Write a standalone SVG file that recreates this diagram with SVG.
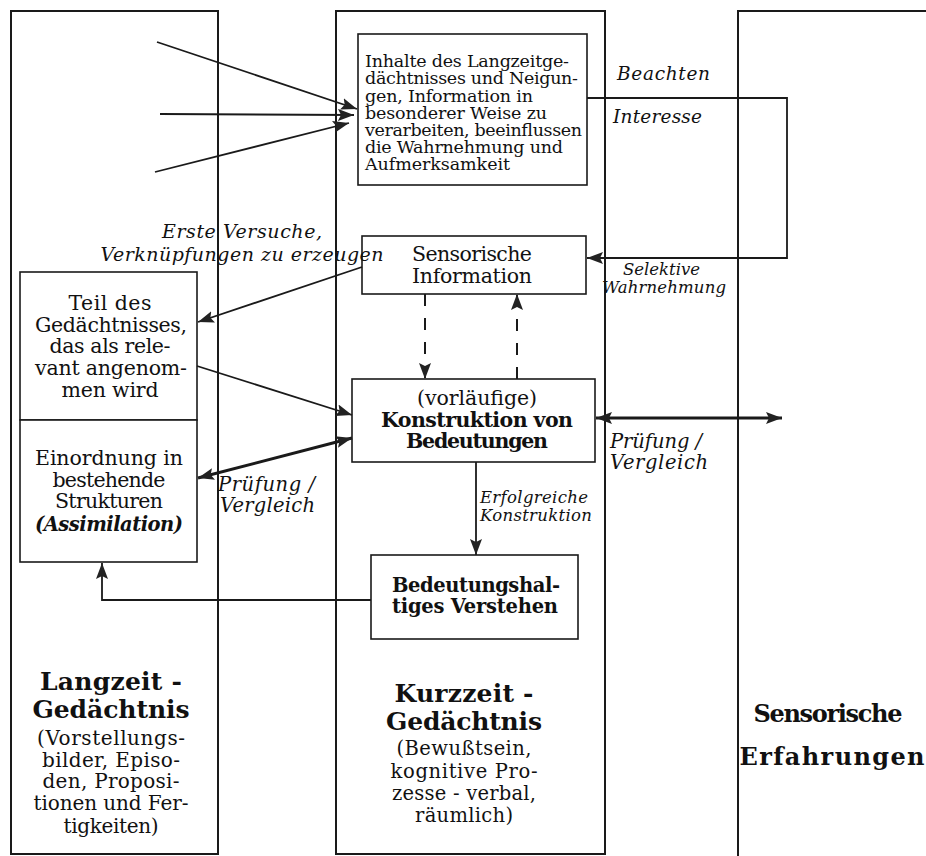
<svg xmlns="http://www.w3.org/2000/svg" width="926" height="856" viewBox="0 0 926 856">
  <style>
    .col { fill: none; stroke: #1a1a1a; stroke-width: 2; }
    .box { fill: #fff; stroke: #1a1a1a; stroke-width: 1.6; }
    .t { font-family: "DejaVu Serif", "Liberation Serif", serif; fill: #111; }
    .c { text-anchor: middle; }
    .b { font-weight: bold; }
    .i { font-style: italic; }
    .ln { fill: none; stroke: #1a1a1a; stroke-width: 1.8; }
    .thick { fill: none; stroke: #1a1a1a; stroke-width: 3; }
    .dash { fill: none; stroke: #1a1a1a; stroke-width: 2; stroke-dasharray: 12 12; }
  </style>
  <defs>
    <marker id="ah" markerUnits="userSpaceOnUse" markerWidth="17" markerHeight="12" refX="16" refY="6" orient="auto-start-reverse">
      <path d="M0,0 L16,6 L0,12 L3,6 z" fill="#222"/>
    </marker>
  </defs>
  <rect width="926" height="856" fill="#fff"/>

  <!-- memory columns -->
  <g id="col-langzeit">
    <rect class="col" x="11" y="11" width="207" height="843"/>
    <text class="t c b" x="111" y="690" font-size="25" textLength="142">Langzeit -</text>
    <text class="t c b" x="111" y="718" font-size="25" textLength="157">Gedächtnis</text>
    <text class="t c" x="111" y="745" font-size="20" textLength="148">(Vorstellungs-</text>
    <text class="t c" x="111" y="767" font-size="20" textLength="138">bilder, Episo-</text>
    <text class="t c" x="111" y="788" font-size="20" textLength="137">den, Proposi-</text>
    <text class="t c" x="111" y="810" font-size="20" textLength="155">tionen und Fer-</text>
    <text class="t c" x="111" y="833" font-size="20" textLength="95">tigkeiten)</text>
  </g>
  <g id="col-kurzzeit">
    <rect class="col" x="336" y="11" width="269" height="843"/>
    <text class="t c b" x="464" y="702" font-size="25" textLength="139">Kurzzeit -</text>
    <text class="t c b" x="464" y="730" font-size="25" textLength="156">Gedächtnis</text>
    <text class="t c" x="464" y="755" font-size="19.5" textLength="135">(Bewußtsein,</text>
    <text class="t c" x="464" y="778" font-size="19.5" textLength="147">kognitive Pro-</text>
    <text class="t c" x="464" y="800" font-size="19.5" textLength="144">zesse - verbal,</text>
    <text class="t c" x="464" y="822" font-size="19.5" textLength="98">räumlich)</text>
  </g>
  <g id="col-sensorisch">
    <path class="col" d="M926,11 H738 V856"/>
    <text class="t c b" x="828" y="722" font-size="24" textLength="149">Sensorische</text>
    <text class="t c b" x="832" y="765" font-size="24" textLength="185">Erfahrungen</text>
  </g>

  <!-- boxes -->
  <g id="n-inhalte">
    <rect class="box" x="358" y="34" width="229" height="151"/>
    <text class="t" x="365" y="67" font-size="17.5" textLength="204">Inhalte des Langzeitge-</text>
    <text class="t" x="365" y="84" font-size="17.5" textLength="213">dächtnisses und Neigun-</text>
    <text class="t" x="365" y="101.5" font-size="17.5" textLength="168">gen, Information in</text>
    <text class="t" x="365" y="118.5" font-size="17.5" textLength="182">besonderer Weise zu</text>
    <text class="t" x="365" y="136" font-size="17.5" textLength="217">verarbeiten, beeinflussen</text>
    <text class="t" x="365" y="153" font-size="17.5" textLength="198">die Wahrnehmung und</text>
    <text class="t" x="365" y="170" font-size="17.5" textLength="145">Aufmerksamkeit</text>
  </g>
  <g id="n-sensinfo">
    <rect class="box" x="362" y="236" width="224" height="58"/>
    <text class="t c" x="472" y="261" font-size="20.5" textLength="120">Sensorische</text>
    <text class="t c" x="472" y="283" font-size="20.5" textLength="120">Information</text>
  </g>
  <g id="n-konstruktion">
    <rect class="box" x="352" y="379" width="243" height="83"/>
    <text class="t c" x="477" y="405" font-size="20.5" textLength="120">(vorläufige)</text>
    <text class="t c b" x="477" y="427" font-size="20.5" textLength="192">Konstruktion von</text>
    <text class="t c b" x="477" y="448" font-size="20.5" textLength="142">Bedeutungen</text>
  </g>
  <g id="n-verstehen">
    <rect class="box" x="371" y="555" width="207" height="84"/>
    <text class="t c b" x="476" y="592" font-size="19.5" textLength="168">Bedeutungshal-</text>
    <text class="t c b" x="475" y="613" font-size="19.5" textLength="166">tiges Verstehen</text>
  </g>
  <g id="n-teil">
    <rect class="box" x="20" y="272" width="177" height="148"/>
    <text class="t c" x="110" y="310" font-size="20.5" textLength="83">Teil des</text>
    <text class="t c" x="111" y="332" font-size="20.5" textLength="152">Gedächtnisses,</text>
    <text class="t c" x="110" y="353" font-size="20.5" textLength="121">das als rele-</text>
    <text class="t c" x="111" y="375" font-size="20.5" textLength="152">vant angenom-</text>
    <text class="t c" x="110" y="397" font-size="20.5" textLength="97">men wird</text>
  </g>
  <g id="n-einordnung">
    <rect class="box" x="20" y="420" width="177" height="142"/>
    <text class="t c" x="109" y="465" font-size="20.5" textLength="148">Einordnung in</text>
    <text class="t c" x="109" y="487" font-size="20.5" textLength="113">bestehende</text>
    <text class="t c" x="109" y="508" font-size="20.5" textLength="108">Strukturen</text>
    <text class="t c b i" x="109" y="531" font-size="19.5" textLength="148">(Assimilation)</text>
  </g>

  <!-- connectors -->
  <g id="connectors">
    <line class="ln" x1="157" y1="42" x2="357" y2="109" marker-end="url(#ah)"/>
    <line class="ln" x1="160" y1="114" x2="354" y2="115" marker-end="url(#ah)"/>
    <line class="ln" x1="155" y1="172" x2="349" y2="123" marker-end="url(#ah)"/>
    <polyline class="ln" points="587,98 787,98 787,258 587,258" marker-end="url(#ah)"/>
    <line class="ln" x1="362" y1="267" x2="198" y2="322" marker-end="url(#ah)"/>
    <line class="dash" x1="425" y1="294" x2="425" y2="379" marker-end="url(#ah)"/>
    <line class="dash" x1="517" y1="379" x2="517" y2="294" marker-end="url(#ah)"/>
    <line class="ln" x1="197" y1="366" x2="352" y2="415" marker-end="url(#ah)"/>
    <line class="thick" x1="198" y1="478" x2="352" y2="438" marker-start="url(#ah)" marker-end="url(#ah)"/>
    <line class="thick" x1="596" y1="418" x2="782" y2="418" marker-start="url(#ah)" marker-end="url(#ah)"/>
    <line class="ln" x1="476" y1="462" x2="476" y2="555" marker-end="url(#ah)"/>
    <polyline class="ln" points="371,600 102,600 102,563" marker-end="url(#ah)"/>

    <text class="t i" x="617" y="80" font-size="18.5" textLength="93">Beachten</text>
    <text class="t i" x="613" y="123" font-size="18.5" textLength="89">Interesse</text>
    <text class="t c i" x="242" y="238" font-size="19" textLength="160">Erste Versuche,</text>
    <text class="t c i" x="242" y="261" font-size="19" textLength="283">Verknüpfungen zu erzeugen</text>
    <text class="t i" x="623" y="275" font-size="16.5" textLength="77">Selektive</text>
    <text class="t i" x="602" y="293" font-size="16.5" textLength="124">Wahrnehmung</text>
    <text class="t i" x="610" y="448" font-size="19.5" textLength="92">Prüfung /</text>
    <text class="t i" x="610" y="469" font-size="19.5" textLength="98">Vergleich</text>
    <text class="t i" x="218" y="491" font-size="19.5" textLength="97">Prüfung /</text>
    <text class="t i" x="220" y="512" font-size="19.5" textLength="95">Vergleich</text>
    <text class="t i" x="480" y="503" font-size="16.5" textLength="108">Erfolgreiche</text>
    <text class="t i" x="480" y="521" font-size="16.5" textLength="112">Konstruktion</text>
  </g>
</svg>
